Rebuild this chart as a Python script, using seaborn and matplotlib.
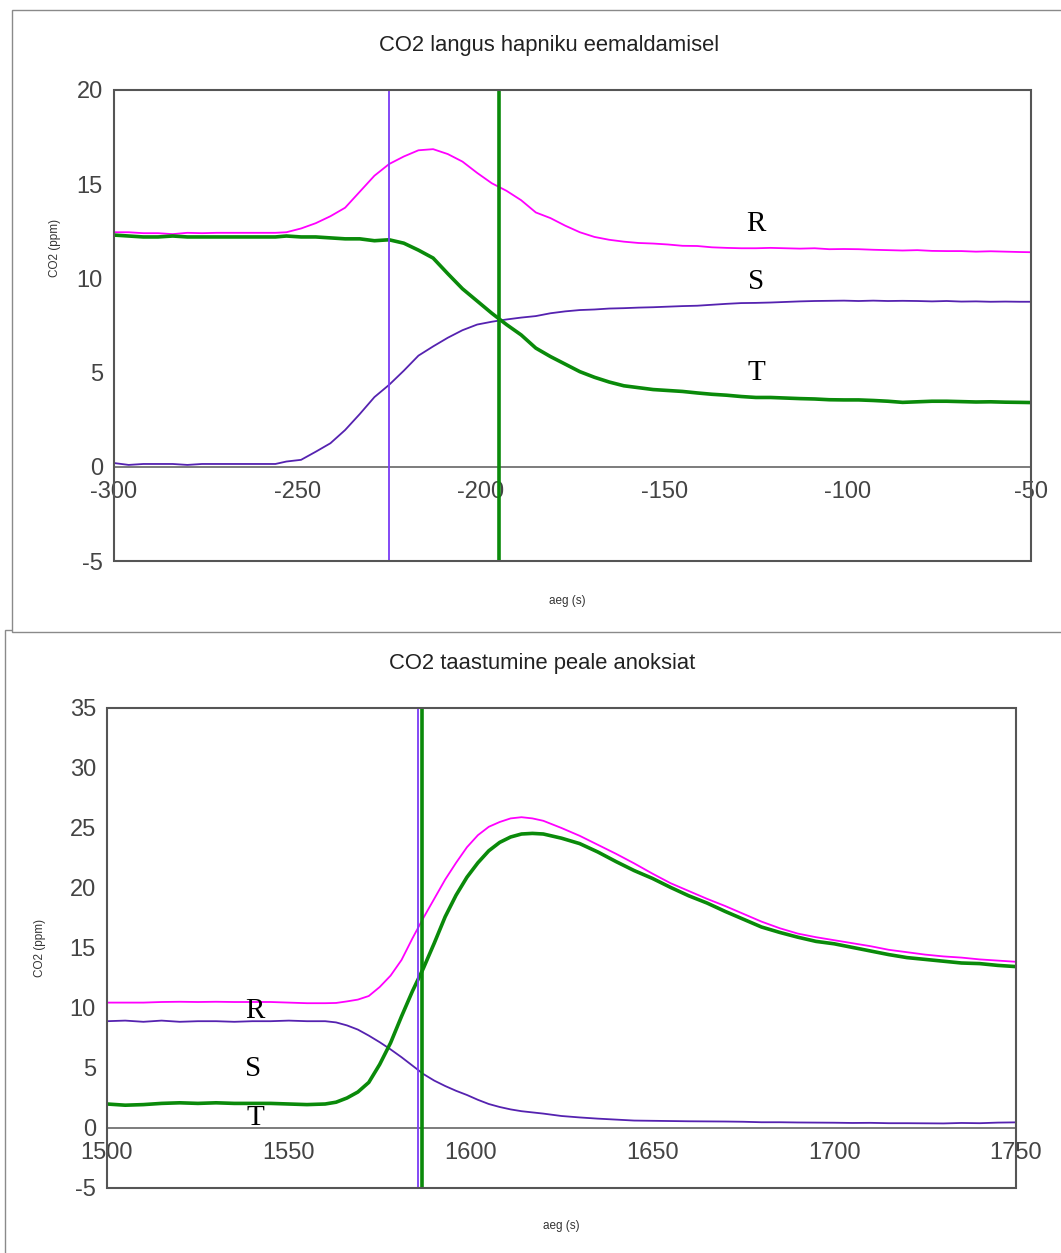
import pandas as pd
import numpy as np
import matplotlib
matplotlib.use("Agg")
import matplotlib.pyplot as plt
from matplotlib.patches import Rectangle
import seaborn as sns

sns.set_style("white")
plt.rcParams["font.family"] = ["Liberation Sans", "DejaVu Sans"]
plt.rcParams["axes.unicode_minus"] = False

# ---- data: top panel (CO2 decrease on oxygen removal) ----
top_time = [-300, -296, -292, -288, -284, -280, -276, -272, -268, -264, -260, -256,
            -253, -249, -245, -241, -237, -233, -229, -225, -221, -217, -213, -209,
            -205, -201, -197, -193, -189, -185, -181, -177, -173, -169, -165, -161,
            -157, -153, -149, -145, -141, -137, -133, -129, -125, -121, -117, -113,
            -109, -105, -101, -97, -93, -89, -85, -81, -77, -73, -69, -65, -61, -57,
            -53, -50]
top_R = [12.45, 12.45, 12.40, 12.40, 12.35, 12.42, 12.40, 12.42, 12.42, 12.42, 12.42, 12.42,
         12.45, 12.65, 12.93, 13.30, 13.75, 14.60, 15.45, 16.07, 16.47, 16.80, 16.86, 16.60,
         16.20, 15.60, 15.05, 14.65, 14.15, 13.50, 13.20, 12.80, 12.45, 12.20, 12.05, 11.95,
         11.88, 11.85, 11.80, 11.73, 11.72, 11.65, 11.62, 11.60, 11.60, 11.62, 11.60, 11.58,
         11.60, 11.55, 11.56, 11.55, 11.52, 11.50, 11.48, 11.50, 11.46, 11.45, 11.45, 11.42,
         11.44, 11.42, 11.40, 11.39]
top_S = [0.20, 0.10, 0.15, 0.15, 0.15, 0.10, 0.15, 0.15, 0.15, 0.15, 0.15, 0.15,
         0.28, 0.37, 0.80, 1.25, 1.95, 2.80, 3.70, 4.35, 5.10, 5.90, 6.39, 6.85,
         7.25, 7.55, 7.70, 7.82, 7.92, 8.00, 8.15, 8.25, 8.32, 8.35, 8.40, 8.42,
         8.45, 8.47, 8.50, 8.53, 8.55, 8.60, 8.65, 8.69, 8.70, 8.72, 8.75, 8.78,
         8.80, 8.81, 8.82, 8.80, 8.82, 8.80, 8.81, 8.80, 8.78, 8.80, 8.77, 8.78,
         8.76, 8.77, 8.76, 8.76]
top_T = [12.30, 12.25, 12.20, 12.20, 12.25, 12.20, 12.20, 12.20, 12.20, 12.20, 12.20, 12.20,
         12.25, 12.20, 12.20, 12.15, 12.10, 12.10, 12.00, 12.05, 11.87, 11.50, 11.08, 10.25,
         9.45, 8.80, 8.15, 7.55, 7.00, 6.30, 5.85, 5.45, 5.05, 4.75, 4.50, 4.30,
         4.20, 4.10, 4.05, 4.00, 3.92, 3.85, 3.80, 3.73, 3.68, 3.68, 3.65, 3.62,
         3.60, 3.56, 3.55, 3.55, 3.52, 3.48, 3.42, 3.45, 3.48, 3.48, 3.46, 3.44,
         3.45, 3.43, 3.42, 3.41]
top_marks = {"S": -225, "T": -195}
top_labels = {"R": (-125, 12.9), "S": (-125, 9.8), "T": (-125, 5.0)}

# ---- data: bottom panel (CO2 recovery after anoxia) ----
bot_time = [1500, 1505, 1510, 1515, 1520, 1525, 1530, 1535, 1540, 1545, 1550, 1555,
            1560, 1563, 1566, 1569, 1572, 1575, 1578, 1581, 1584, 1587, 1590, 1593,
            1596, 1599, 1602, 1605, 1608, 1611, 1614, 1617, 1620, 1625, 1630, 1635,
            1640, 1645, 1650, 1655, 1660, 1665, 1670, 1675, 1680, 1685, 1690, 1695,
            1700, 1705, 1710, 1715, 1720, 1725, 1730, 1735, 1740, 1745, 1750]
bot_R = [10.45, 10.45, 10.45, 10.50, 10.52, 10.50, 10.52, 10.50, 10.50, 10.50, 10.45, 10.40,
         10.40, 10.42, 10.55, 10.70, 11.00, 11.75, 12.70, 14.00, 15.80, 17.50, 19.10, 20.70,
         22.10, 23.40, 24.40, 25.10, 25.50, 25.80, 25.90, 25.80, 25.60, 25.00, 24.35, 23.60,
         22.85, 22.05, 21.20, 20.40, 19.75, 19.10, 18.50, 17.85, 17.20, 16.65, 16.20, 15.90,
         15.65, 15.40, 15.15, 14.85, 14.65, 14.45, 14.30, 14.20, 14.05, 13.95, 13.85]
bot_S = [8.90, 8.95, 8.85, 8.95, 8.85, 8.90, 8.90, 8.85, 8.90, 8.90, 8.95, 8.90,
         8.90, 8.80, 8.55, 8.20, 7.70, 7.15, 6.55, 5.90, 5.20, 4.50, 3.95, 3.50,
         3.10, 2.75, 2.35, 2.00, 1.75, 1.55, 1.40, 1.30, 1.20, 1.00, 0.88, 0.78,
         0.70, 0.62, 0.60, 0.58, 0.56, 0.55, 0.54, 0.52, 0.48, 0.48, 0.46, 0.45,
         0.44, 0.42, 0.43, 0.40, 0.40, 0.39, 0.38, 0.42, 0.40, 0.45, 0.47]
bot_T = [2.00, 1.90, 1.95, 2.05, 2.10, 2.05, 2.10, 2.05, 2.05, 2.05, 2.00, 1.95,
         2.00, 2.15, 2.50, 3.00, 3.80, 5.30, 7.10, 9.30, 11.40, 13.30, 15.40, 17.60,
         19.40, 20.90, 22.10, 23.10, 23.80, 24.25, 24.50, 24.55, 24.50, 24.15, 23.70, 23.00,
         22.20, 21.45, 20.80, 20.05, 19.35, 18.75, 18.05, 17.40, 16.75, 16.30, 15.90, 15.55,
         15.35, 15.05, 14.75, 14.45, 14.20, 14.05, 13.90, 13.75, 13.70, 13.55, 13.45]
bot_marks = {"S": 1585.6, "T": 1586.6}
bot_labels = {"R": (1540.7, 9.75), "S": (1540.2, 4.9), "T": (1540.7, 0.8)}

COL = {"R": "#ff00ff", "S": "#5522b0", "T": "#0a8a0a"}
MARK_COL = {"S": "#7a3cf5", "T": "#0a8a0a"}
LW = {"R": 1.3, "S": 1.3, "T": 2.6}
MARK_LW = {"S": 1.3, "T": 2.6}

W, H = 1061, 1253
fig = plt.figure(figsize=(W / 100, H / 100), dpi=100)

# screenshot frames
fig.patches.append(Rectangle((5 / W, -0.1), 1.1, 1 - 630 / H + 0.1, transform=fig.transFigure,
                             facecolor="white", edgecolor="#8a8a8a", lw=1, zorder=-3))
fig.patches.append(Rectangle((12 / W, 1 - 632 / H), 1.1, 622 / H, transform=fig.transFigure,
                             facecolor="white", edgecolor="#8a8a8a", lw=1, zorder=-2))


def panel(rect, time, R, S, T, marks, labels, xlim, ylim, yticks, xticks, title, title_xy, ylab_xy, xlab_xy):
    ax = fig.add_axes(rect)
    ax.set_facecolor("none")
    df = pd.DataFrame({"aeg": time, "R": R, "S": S, "T": T})
    for k in ["R", "S", "T"]:
        sns.lineplot(data=df, x="aeg", y=k, ax=ax, color=COL[k], linewidth=LW[k], zorder=3)
    for k, xv in marks.items():
        ax.axvline(xv, color=MARK_COL[k], lw=MARK_LW[k], zorder=4)
    for k, (xv, yv) in labels.items():
        ax.text(xv, yv, k, family="Liberation Serif", fontsize=21, color="black",
                ha="center", va="center", zorder=5)
    ax.set_xlim(*xlim)
    ax.set_ylim(*ylim)
    ax.set_xticks(xticks)
    ax.set_yticks(yticks)
    ax.set_xlabel("")
    ax.set_ylabel("")
    ax.spines["bottom"].set_position(("data", 0))
    for s in ax.spines.values():
        s.set_color("#666666")
        s.set_linewidth(1.2)
    ax.spines["top"].set_visible(False)
    ax.spines["right"].set_visible(False)
    ax.spines["left"].set_visible(False)
    ax.add_patch(Rectangle((0, 0), 1, 1, transform=ax.transAxes, fill=False,
                           edgecolor="#555555", lw=1.5, clip_on=False, zorder=6))
    ax.tick_params(axis="both", direction="out", length=5, width=1, color="#777777",
                   labelsize=17, labelcolor="#444444", pad=3)
    ax.tick_params(axis="x", pad=5)
    fig.text(title_xy[0] / W, 1 - title_xy[1] / H, title, ha="center", va="center",
             fontsize=15.8, color="#222222")
    fig.text(ylab_xy[0] / W, 1 - ylab_xy[1] / H, "CO2 (ppm)", rotation=90, ha="center",
             va="center", fontsize=8.5, color="#333333")
    fig.text(xlab_xy[0] / W, 1 - xlab_xy[1] / H, "aeg (s)", ha="center", va="center",
             fontsize=8.5, color="#333333")
    return ax


panel([114 / W, 1 - 561 / H, (1031 - 114) / W, (561 - 90) / H],
      top_time, top_R, top_S, top_T, top_marks, top_labels,
      (-300, -50), (-5, 20), [-5, 0, 5, 10, 15, 20], [-300, -250, -200, -150, -100, -50],
      "CO2 langus hapniku eemaldamisel", (549, 46), (55, 248), (567, 601))

panel([107 / W, 1 - 1188 / H, (1016 - 107) / W, (1188 - 708) / H],
      bot_time, bot_R, bot_S, bot_T, bot_marks, bot_labels,
      (1500, 1750), (-5, 35), [-5, 0, 5, 10, 15, 20, 25, 30, 35], [1500, 1550, 1600, 1650, 1700, 1750],
      "CO2 taastumine peale anoksiat", (542, 664), (40, 948), (561, 1226))

fig.savefig("out.png", dpi=100)
